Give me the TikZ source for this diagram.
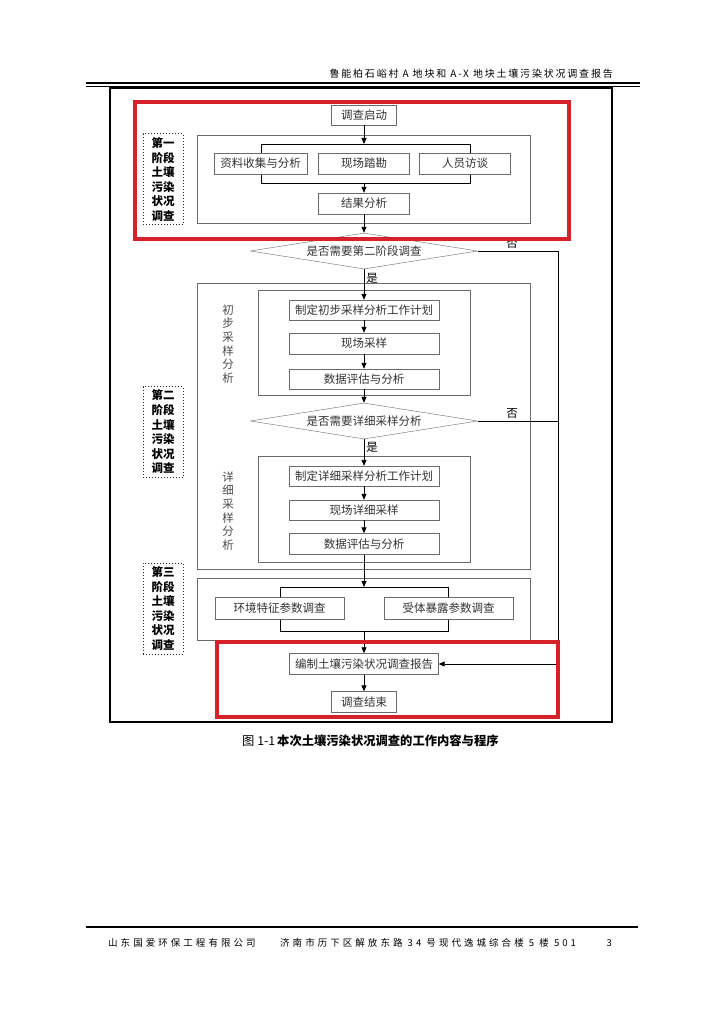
\documentclass[tikz,border=0pt]{standalone}
\usepackage{fontspec}
\setmainfont{Noto Sans CJK SC}
\usetikzlibrary{arrows.meta,positioning,shapes.geometric}
\definecolor{markred}{RGB}{214,32,42}
\definecolor{boxgray}{gray}{0.42}
\tikzset{
  stepbox/.style={
    draw=boxgray,
    fill=white,
    align=center,
    minimum height=20pt,
    inner sep=0pt,
    text=black!80,
    font=\fontsize{11.5}{13}\selectfont
  },
  shortbox/.style={stepbox,minimum width=65pt},
  midbox/.style={stepbox,minimum width=91pt,minimum height=21pt},
  longbox/.style={stepbox,minimum width=150pt},
  widebox/.style={stepbox,minimum width=129pt,minimum height=22pt},
  decision/.style={
    diamond,
    aspect=6,
    draw=boxgray,
    fill=white,
    minimum width=227pt,
    minimum height=36pt,
    inner sep=0pt,
    text=black!80,
    font=\fontsize{11.5}{13}\selectfont
  },
  stage/.style={
    draw=black!85,
    dotted,
    line width=1pt,
    minimum width=40pt,
    minimum height=91pt,
    align=center,
    inner sep=0pt,
    font=\fontsize{11.5}{14.6}\selectfont\bfseries
  },
  side/.style={
    align=center,
    text=black!70,
    font=\fontsize{11.5}{13.7}\selectfont
  },
  frame/.style={draw=boxgray,line width=0.8pt},
  link/.style={draw=black,line width=0.8pt},
  arrow/.style={->,draw=black,line width=0.8pt},
  yes/.style={anchor=west,inner sep=2pt,font=\fontsize{11.5}{13}\selectfont},
  no/.style={above,inner sep=2pt,font=\fontsize{11.5}{13}\selectfont},
  redmark/.style={draw=markred,line width=3.5pt},
  pagetext/.style={inner sep=0pt,font=\fontsize{10}{12}\selectfont\addfontfeature{LetterSpace=18}},
  foottext/.style={inner sep=0pt,font=\fontsize{9.5}{12}\selectfont\addfontfeature{LetterSpace=32}}
}
\begin{document}
\begin{tikzpicture}[x=1pt,y=-1pt,node distance=40pt,on grid,>={Triangle[length=6pt,width=5pt]}]
\useasboundingbox[fill=white] (0,0) rectangle (724,1024);
% header and footer of the page
\draw[line width=1.5pt] (86,83) -- (640,83);
\draw[line width=0.5pt] (86,86) -- (640,86);
\node[pagetext,anchor=east] (head) at (613,74) {鲁能柏石峪村 A 地块和 A-X 地块土壤污染状况调查报告};
\draw[line width=1.8pt] (86,927) -- (638,927);
\node[foottext,anchor=west] (firm) at (108,943) {山东国爱环保工程有限公司};
\node[foottext,anchor=west] (addr) at (280,943) {济南市历下区解放东路 34 号现代逸城综合楼 5 楼 501};
\node[foottext,anchor=east] (page) at (612,943) {3};
% figure frame and stage frames
\draw[line width=1.6pt] (110,88) rectangle (612,722);
\draw[frame] (197,135) rectangle (530,223);
\draw[frame] (197,283) rectangle (530,569);
\draw[frame] (258,290) rectangle (470,395);
\draw[frame] (258,456) rectangle (470,562);
\draw[frame] (197,578) rectangle (530,640);
% brackets behind the parallel boxes
\coordinate (top1) at (364,144);
\coordinate (bot1) at (364,183);
\draw[link] (261,144) rectangle (470,183);
\coordinate (top3) at (364,587);
\coordinate (bot3) at (364,631);
\draw[link] (280,587) rectangle (448,631);
% boxes
\node[shortbox] (start) at (364,115) {调查启动};
\node[midbox,below=48.5pt of start] (survey) {现场踏勘};
\node[midbox,minimum width=93pt,left=103.5pt of survey] (collect) {资料收集与分析};
\node[midbox,right=101pt of survey] (visit) {人员访谈};
\node[midbox,below=40pt of survey] (result) {结果分析};
\node[decision,below=47.5pt of result] (need2) {是否需要第二阶段调查};
\node[longbox,below=59pt of need2] (plan1) {制定初步采样分析工作计划};
\node[longbox,minimum height=21pt,below=33.5pt of plan1] (sample1) {现场采样};
\node[longbox,below=35.5pt of sample1] (eval1) {数据评估与分析};
\node[decision,below=42pt of eval1] (need3) {是否需要详细采样分析};
\node[longbox,below=55pt of need3] (plan2) {制定详细采样分析工作计划};
\node[longbox,below=34pt of plan2] (sample2) {现场详细采样};
\node[longbox,minimum height=21pt,below=34pt of sample2] (eval2) {数据评估与分析};
\node[widebox,below left=64pt and 84.5pt of eval2] (envir) {环境特征参数调查};
\node[widebox,below right=64pt and 84.5pt of eval2] (expo) {受体暴露参数调查};
\node[longbox,minimum height=21pt,minimum width=149pt,below=120pt of eval2] (report) {编制土壤污染状况调查报告};
\node[shortbox,minimum height=21pt,below=38pt of report] (finish) {调查结束};
% side labels
\node[side] (pre) at (228,344) {初\\步\\采\\样\\分\\析};
\node[side] (det) at (228,511) {详\\细\\采\\样\\分\\析};
\node[stage] (st1) at (163,179.5) {第一\\阶段\\土壤\\污染\\状况\\调查};
\node[stage] (st2) at (163,432) {第二\\阶段\\土壤\\污染\\状况\\调查};
\node[stage] (st3) at (163,608.5) {第三\\阶段\\土壤\\污染\\状况\\调查};
% connectors
\coordinate (rside) at (558,251);
\draw[arrow] (start) -- (top1);
\draw[arrow] (bot1) -- (result);
\draw[arrow] (result) -- (need2);
\draw[arrow] (need2) -- node[yes,pos=.3] {是} (plan1);
\draw[arrow] (plan1) -- (sample1);
\draw[arrow] (sample1) -- (eval1);
\draw[arrow] (eval1) -- (need3);
\draw[arrow] (need3) -- node[yes,pos=.3] {是} (plan2);
\draw[arrow] (plan2) -- (sample2);
\draw[arrow] (sample2) -- (eval2);
\draw[arrow] (eval2) -- (top3);
\draw[arrow] (bot3) -- (report);
\draw[arrow] (report) -- (finish);
\draw[arrow] (need2) -- node[no,pos=.43] {否} (rside) |- (report);
\draw[link] (need3) -- node[no,pos=.43] {否} (need3 -| rside);
% red marks
\draw[redmark] (135,102) rectangle (569,239);
\draw[redmark] (217,642) rectangle (558,717);
% caption
\node[anchor=west,inner sep=0pt,font=\fontsize{12.3}{14}\selectfont] (cap) at (242,741) {图 1-1\,\textbf{本次土壤污染状况调查的工作内容与程序}};
\end{tikzpicture}
\end{document}
